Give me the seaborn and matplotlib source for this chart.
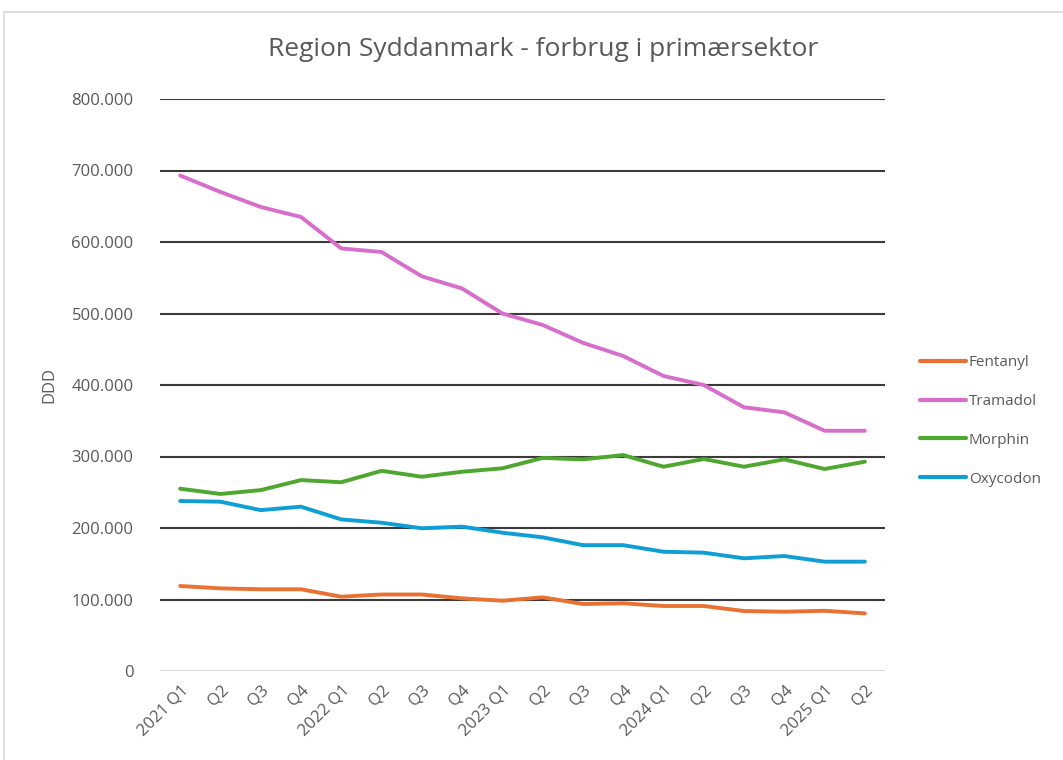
import matplotlib
matplotlib.use("Agg")
from matplotlib import pyplot as plt
from matplotlib.ticker import FuncFormatter
from matplotlib.patches import Rectangle
import seaborn as sns
import pandas as pd

quarters = ["2021 Q1", "Q2", "Q3", "Q4", "2022 Q1", "Q2", "Q3", "Q4",
            "2023 Q1", "Q2", "Q3", "Q4", "2024 Q1", "Q2", "Q3", "Q4",
            "2025 Q1", "Q2"]

fentanyl = [118900, 115600, 114300, 114300, 103900, 107000, 107000, 101600,
            98300, 103000, 93700, 94700, 90900, 90900, 83900, 82900, 84200, 80600]
tramadol = [693000, 670000, 649000, 635000, 591000, 586000, 552000, 535000,
            500000, 484000, 459000, 440600, 412600, 400000, 368800, 361800,
            336000, 336000]
morphin = [255000, 247600, 253000, 267000, 264000, 280000, 271700, 278700,
           283500, 298000, 296000, 302000, 285700, 296500, 285700, 296000,
           282500, 292700]
oxycodon = [237800, 236800, 225000, 229800, 212000, 207400, 199600, 201900,
            193400, 187000, 176000, 176000, 166800, 165500, 157600, 160800,
            152900, 152900]

series = {"Fentanyl": fentanyl, "Tramadol": tramadol,
          "Morphin": morphin, "Oxycodon": oxycodon}
colors = {"Fentanyl": "#E97132", "Tramadol": "#D86ECC",
          "Morphin": "#4EA72E", "Oxycodon": "#0F9ED5"}

rows = []
for name, vals in series.items():
    for i, v in enumerate(vals):
        rows.append({"pos": i, "DDD": v, "Stof": name})
df = pd.DataFrame(rows)

sns.set_style("white")
plt.rcParams["font.family"] = ["Open Sans", "DejaVu Sans"]

fig = plt.figure(figsize=(10.63, 7.60), dpi=100)
ax = fig.add_axes([160 / 1063, 1 - 671 / 760, 725 / 1063, 572 / 760])

# chart area frame
fig.patches.append(Rectangle((4 / 1063, -0.05), 1.1, 1 - 12 / 760 + 0.05,
                             transform=fig.transFigure, fill=False,
                             edgecolor="#D9D9D9", linewidth=1.2))

sns.lineplot(data=df, x="pos", y="DDD", hue="Stof", palette=colors,
             linewidth=2.8, ax=ax, legend=False)

ax.set_xlim(-0.5, len(quarters) - 0.5)
ax.set_ylim(0, 800000)
ax.set_yticks(range(0, 800001, 100000))
ax.yaxis.set_major_formatter(FuncFormatter(lambda v, p: f"{int(v):,}".replace(",", ".")))
ax.set_xticks(range(len(quarters)))
ax.set_xticklabels(quarters, rotation=45, ha="right", rotation_mode="anchor")

for v in range(100000, 800001, 100000):
    ax.axhline(v, color="#3A3A3A", linewidth=1.5, zorder=0)
ax.axhline(0, color="#D9D9D9", linewidth=1.5, zorder=0)

for s in ax.spines.values():
    s.set_visible(False)
ax.tick_params(axis="both", length=0, labelsize=12, colors="#595959")
ax.tick_params(axis="y", pad=19)
ax.tick_params(axis="x", pad=8)

ax.set_xlabel("")
ax.set_ylabel("DDD", fontsize=12, color="#595959", labelpad=10)

fig.text(543 / 1063, 1 - 50 / 760, "Region Syddanmark - forbrug i primærsektor",
         ha="center", va="center", fontsize=19, color="#595959")

handles = [plt.Line2D([], [], color=colors[n], linewidth=3) for n in series]
fig.legend(handles, list(series), loc="center left",
           bbox_to_anchor=(906 / 1063, 1 - 421 / 760), frameon=False,
           fontsize=11, labelcolor="#595959", handlelength=3.0,
           handletextpad=0.2, labelspacing=1.55)

fig.savefig("out.png", dpi=100)
